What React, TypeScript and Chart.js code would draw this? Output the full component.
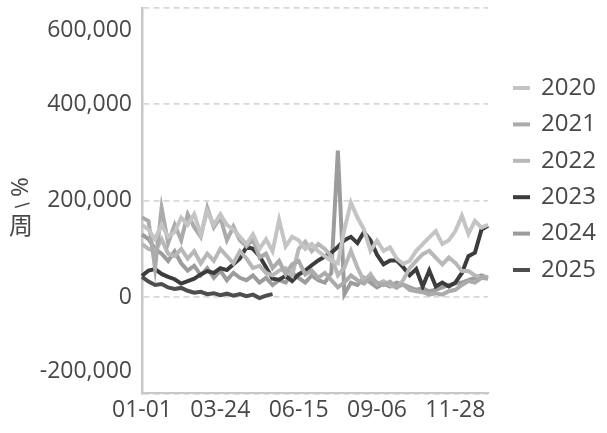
import React, { useEffect, useRef } from "react";
import { Chart, registerables } from "chart.js";

Chart.register(...registerables);

// 54 weekly categories; tick labels shown every 12th week
const weeks: string[] = Array.from({ length: 54 }, (_, i) => `W${i + 1}`);
const xTickLabels = ["01-01", "03-24", "06-15", "09-06", "11-28"];
const xTickEvery = 12;

const yTicks = { min: -200000, max: 600000, step: 200000 };
const yTitle = ["周", "/", "%"];

const seriesNames = ["2020", "2021", "2022", "2023", "2024", "2025"];
const seriesColors = ["#c4c4c4", "#ababab", "#b8b8b8", "#3c3c3c", "#9c9c9c", "#4e4e4e"];

const v2020 = [
  150000, 140000, 120000, 150000, 125000, 135000, 165000, 150000, 172000, 130000, 178000, 150000, 172000, 150000,
  140000, 125000, 110000, 130000, 100000, 120000, 95000, 160000, 105000, 125000, 118000, 100000, 110000, 95000, 85000, 75000,
  70000, 140000, 196000, 165000, 140000, 96000, 117000, 96000, 103000, 80000, 69000,
  75000, 96000, 110000, 124000, 137000, 110000, 118000, 137000, 169000, 131000, 158000, 144000, 150000,
];
const v2021 = [
  165000, 158000, 60000, 185000, 112000, 150000, 118000, 172000, 145000, 125000, 185000, 145000, 165000, 118000,
  146000, 118000, 105000, 120000, 82000, 90000, 60000, 75000, 47000, 68000, 75000, 47000, 55000, 40000, 50000, 35000,
  20000, 30000, 45000, 35000, 28000, 40000, 30000, 25000, 32000, 20000, 26000,
  15000, 12000, 10000, 5000, 8000, 5000, 12000, 15000, 25000, 33000, 30000, 40000, 38000,
];
const v2022 = [
  110000, 100000, 95000, 120000, 90000, 85000, 100000, 80000, 95000, 70000, 90000, 75000, 100000, 85000,
  70000, 95000, 80000, 60000, 65000, 50000, 45000, 55000, 60000, 45000, 100000, 115000, 95000, 110000, 100000, 85000,
  45000, 61000, 96000, 61000, 33000, 48000, 27000, 33000, 25000, 19000, 35000,
  60000, 75000, 89000, 96000, 82000, 68000, 82000, 71000, 54000, 54000, 45000, 40000, 42000,
];
const v2023 = [
  44000, 55000, 58000, 48000, 42000, 37000, 28000, 33000, 38000, 47000, 54000, 50000, 60000, 56000,
  68000, 80000, 104000, 100000, 85000, 62000, 38000, 36000, 44000, 33000, 47000, 55000, 66000, 76000, 84000, 92000,
  104000, 118000, 125000, 112000, 135000, 118000, 88000, 68000, 76000, 76000, 62000,
  45000, 58000, 22000, 55000, 22000, 30000, 22000, 30000, 50000, 85000, 92000, 140000, 148000,
];
const v2024 = [
  130000, 120000, 100000, 90000, 75000, 95000, 70000, 55000, 65000, 45000, 60000, 40000, 55000, 35000,
  50000, 40000, 35000, 45000, 30000, 40000, 25000, 35000, 30000, 50000, 40000, 30000, 45000, 35000, 30000, 50000,
  304000, 6000, 30000, 25000, 40000, 30000, 20000, 28000, 22000, 30000, 26000,
  20000, 15000, 18000, 12000, 15000, 20000, 25000, 28000, 30000, 35000, 40000, 45000, 40000,
];
const v2025 = [
  42000, 32000, 25000, 27000, 20000, 17000, 19000, 13000, 9000, 11000, 6000, 8000, 4000, 7000,
  3000, 6000, 2000, 5000, -2000, 3000, 6000,
];

const seriesValues = [v2020, v2021, v2022, v2023, v2024, v2025];

const FONT = '"Open Sans", "Noto Sans", sans-serif';
const TEXT = "#484848";

const sideLegend = {
  id: "sideLegend",
  afterDraw(chart: any) {
    const ctx = chart.ctx;
    ctx.save();
    ctx.font = `24px ${FONT}`;
    ctx.textBaseline = "middle";
    ctx.textAlign = "left";
    chart.data.datasets.forEach((ds: any, i: number) => {
      const y = 88 + i * 36.4;
      ctx.fillStyle = ds.borderColor;
      ctx.fillRect(513, y - 2, 17, 4);
      ctx.fillStyle = TEXT;
      ctx.fillText(ds.label, 541, y);
    });
    ctx.restore();
  },
};

const yTitlePlugin = {
  id: "yTitle",
  afterDraw(chart: any) {
    const ctx = chart.ctx;
    ctx.save();
    ctx.fillStyle = TEXT;
    ctx.textAlign = "center";
    ctx.textBaseline = "middle";
    ctx.font = `24px "Noto Sans CJK SC", ${FONT}`;
    ctx.fillText(yTitle[0], 21, 225);
    ctx.save();
    ctx.translate(21, 206);
    ctx.rotate(Math.PI * 0.3);
    ctx.font = `20px ${FONT}`;
    ctx.fillText(yTitle[1], 0, 0);
    ctx.restore();
    ctx.save();
    ctx.translate(21, 187);
    ctx.rotate(-Math.PI / 2);
    ctx.font = `24px ${FONT}`;
    ctx.fillText(yTitle[2], 0, 0);
    ctx.restore();
    ctx.restore();
  },
};

export default function App() {
  const ref = useRef<HTMLCanvasElement | null>(null);

  useEffect(() => {
    document.body.style.margin = "0";
    if (!ref.current) return;
    const chart = new Chart(ref.current, {
      type: "line",
      data: {
        labels: weeks,
        datasets: seriesNames.map((name, i) => ({
          label: name,
          data: seriesValues[i],
          borderColor: seriesColors[i],
          backgroundColor: seriesColors[i],
          borderWidth: 4,
          pointRadius: 0,
          tension: 0,
          fill: false,
        })),
      },
      options: {
        animation: false,
        responsive: false,
        devicePixelRatio: 1,
        layout: { padding: { top: 8, right: 119, bottom: 6, left: 0 } },
        plugins: {
          legend: { display: false },
          tooltip: { enabled: false },
        },
        scales: {
          x: {
            grid: { display: false, drawTicks: false },
            border: { display: true, color: "#c8c8c8", width: 2 },
            ticks: {
              autoSkip: false,
              maxRotation: 0,
              minRotation: 0,
              padding: 3,
              color: TEXT,
              font: { family: FONT, size: 23 },
              callback: (_v: any, index: number) =>
                index % xTickEvery === 0 ? xTickLabels[index / xTickEvery] ?? "" : "",
            },
          },
          y: {
            min: yTicks.min,
            max: yTicks.max,
            grid: { color: "#d8d8d8", lineWidth: 1.8, drawTicks: false },
            border: { display: true, color: "#c8c8c8", width: 2.5, dash: [6, 4] },
            ticks: {
              autoSkip: false,
              stepSize: yTicks.step,
              padding: 10,
              color: TEXT,
              font: { family: FONT, size: 23, lineHeight: "44px" } as any,
              callback: (value: any, index: number, ticks: any[]) => {
                const s = Number(value).toLocaleString("en-US");
                if (index === ticks.length - 1) return ["", s];
                if (index === 0) return [s, ""];
                return s;
              },
            },
            afterFit: (scale: any) => {
              scale.width = 142;
              scale.paddingTop = 0;
              scale.paddingBottom = 0;
            },
          },
        },
      },
      plugins: [sideLegend, yTitlePlugin],
    });
    return () => chart.destroy();
  }, []);

  return <canvas ref={ref} width={607} height={433} style={{ display: "block" }} />;
}
